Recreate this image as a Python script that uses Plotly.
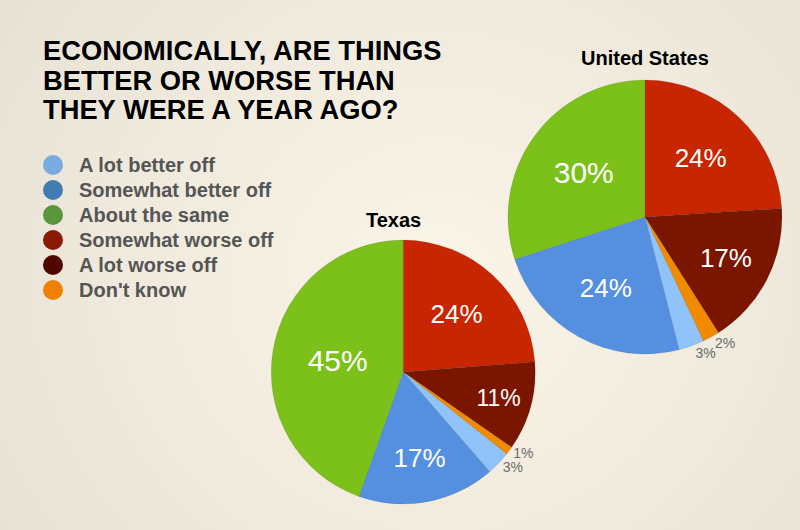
import plotly.graph_objects as go

# answer categories in the order the slices run, clockwise from 12 o'clock
slice_labels = ["Somewhat worse off", "A lot worse off", "Don't know",
                "A lot better off", "Somewhat better off", "About the same"]
texas_values = [24, 11, 1, 3, 17, 45]
us_values = [24, 17, 2, 3, 24, 30]

slice_colors = ["#c82600", "#7a1500", "#f28a00", "#8fc3fa", "#5590e0", "#7cc11a"]

# legend order and its (flatter) colours
legend_labels = ["A lot better off", "Somewhat better off", "About the same",
                 "Somewhat worse off", "A lot worse off", "Don't know"]
legend_colors = ["#78abe0", "#3f7db3", "#5a963c", "#8a1a06", "#4f0600", "#f08000"]

title_lines = ["ECONOMICALLY, ARE THINGS", "BETTER OR WORSE THAN",
               "THEY WERE A YEAR AGO?"]

W, H = 800, 530
FONT = "Liberation Sans, Arial"


def inside_sizes(values):
    return [30 if v >= 30 else (26 if v >= 17 else 23) for v in values]


fig = go.Figure()

pies = [
    (texas_values, "Texas", dict(x=[0.339, 0.669], y=[0.049, 0.547])),
    (us_values, "United States", dict(x=[0.635, 0.9775], y=[0.332, 0.849])),
]

for vals, name, dom in pies:
    # big slices: labels inside
    fig.add_trace(go.Pie(
        labels=slice_labels, values=vals, name=name,
        sort=False, direction="clockwise", rotation=0, domain=dom,
        marker=dict(colors=slice_colors, line=dict(color="rgba(0,0,0,0.15)", width=0.6)),
        texttemplate="%{value}%",
        textposition=["inside" if v >= 5 else "none" for v in vals],
        insidetextorientation="horizontal",
        textfont=dict(family=FONT, size=inside_sizes(vals), color="white"),
        showlegend=False, hoverinfo="label+value",
    ))
    # small slices: each outside label on its own see-through layer,
    # so plotly does not push them apart with leader lines
    for j, v in enumerate(vals):
        if v >= 5:
            continue
        fig.add_trace(go.Pie(
            labels=slice_labels, values=vals, name=name,
            sort=False, direction="clockwise", rotation=0, domain=dom,
            marker=dict(colors=["rgba(0,0,0,0)"] * len(vals)),
            texttemplate="%{value}%",
            textposition=["outside" if k == j else "none" for k in range(len(vals))],
            textfont=dict(family=FONT, size=14, color="#6a6a6a"),
            showlegend=False, hoverinfo="skip",
        ))

shapes = []
# soft radial light in the middle of the card: edge colour -> centre colour
edge = (231, 225, 212)
centre = (250, 245, 232)
n_glow = 28
for i in range(n_glow):
    t = (i + 1) / n_glow
    k = 1 - i / n_glow
    rgb = tuple(round(e + (c - e) * t) for e, c in zip(edge, centre))
    shapes.append(dict(
        type="circle", xref="paper", yref="paper", layer="below",
        x0=0.55 - 0.68 * k, x1=0.55 + 0.68 * k,
        y0=0.47 - 0.95 * k, y1=0.47 + 0.95 * k,
        fillcolor="rgb(%d,%d,%d)" % rgb, line=dict(width=0),
    ))

annotations = []
for i, line in enumerate(title_lines):
    annotations.append(dict(
        x=41 / W, y=1 - (62 + 29.5 * i) / H, xref="paper", yref="paper",
        xanchor="left", yanchor="bottom", yshift=-6, showarrow=False,
        text="<b>%s</b>" % line,
        font=dict(family=FONT, size=27.3, color="#000000"),
    ))

for i, (lab, col) in enumerate(zip(legend_labels, legend_colors)):
    cy = 1 - (165 + 25 * i) / H
    shapes.append(dict(
        type="circle", xref="paper", yref="paper",
        x0=43 / W, x1=63 / W, y0=cy - 10 / H, y1=cy + 10 / H,
        fillcolor=col, line=dict(width=0),
    ))
    annotations.append(dict(
        x=77 / W, y=cy, xref="paper", yref="paper", xanchor="left",
        yanchor="middle", showarrow=False, text="<b>%s</b>" % lab,
        font=dict(family=FONT, size=20, color="#555555"),
    ))

annotations.append(dict(
    x=393 / W, y=1 - 220 / H, xref="paper", yref="paper", showarrow=False,
    xanchor="center", yanchor="middle",
    text="<b>Texas</b>", font=dict(family=FONT, size=20, color="#000"),
))
annotations.append(dict(
    x=645 / W, y=1 - 58 / H, xref="paper", yref="paper", showarrow=False,
    xanchor="center", yanchor="middle",
    text="<b>United States</b>", font=dict(family=FONT, size=20, color="#000"),
))

fig.update_layout(
    width=W, height=H,
    margin=dict(l=0, r=0, t=0, b=0),
    paper_bgcolor="rgb(%d,%d,%d)" % edge,
    plot_bgcolor="rgba(0,0,0,0)",
    shapes=shapes,
    annotations=annotations,
)

# drop the browser's default 8px body margin so the card fills the window
fig.write_html(
    "out.html",
    config={"displayModeBar": False},
    post_script="document.body.style.margin='0';document.body.style.overflow='hidden';",
)
